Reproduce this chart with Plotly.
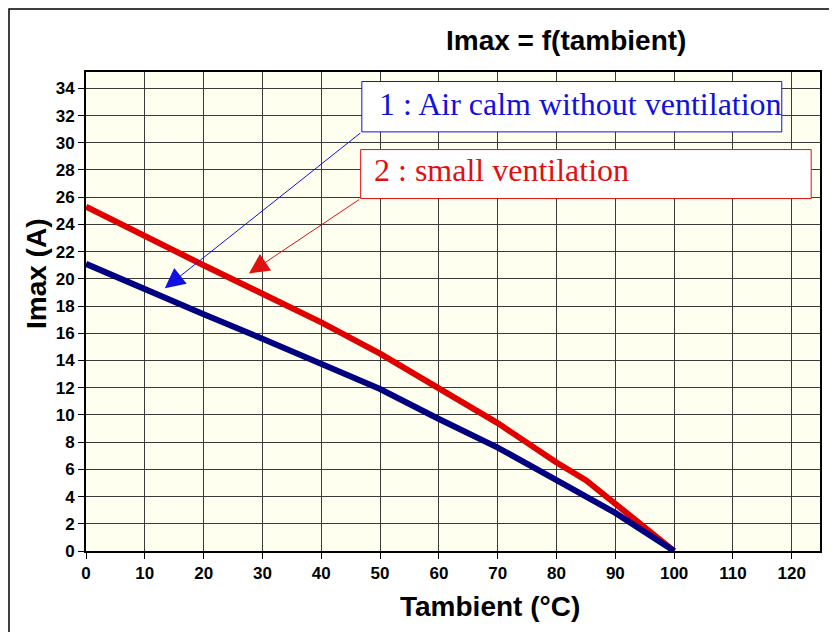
import plotly.graph_objects as go

# Data
temp_calm = [0, 10, 20, 30, 40, 50, 60, 70, 80, 90, 100]
imax_calm = [21.1, 19.2, 17.4, 15.6, 13.8, 11.9, 9.7, 7.6, 5.2, 2.8, 0.0]

temp_vent = [0, 10, 20, 30, 40, 50, 60, 70, 80, 85, 92.5, 100]
imax_vent = [25.3, 23.1, 21.0, 18.9, 16.8, 14.5, 12.0, 9.4, 6.5, 5.2, 2.6, 0.0]

x_ticks = list(range(0, 121, 10))
y_ticks = list(range(0, 35, 2))

label_calm = "1 : Air calm without ventilation"
label_vent = "2 : small ventilation"
title_text = "Imax = f(tambient)"
x_title = "Tambient (°C)"
y_title = "Imax (A)"

SANS = "Liberation Sans, Arial, sans-serif"
SERIF = "Liberation Serif, Times New Roman, serif"

fig = go.Figure()
fig.add_trace(go.Scatter(x=temp_vent, y=imax_vent, mode="lines",
                         line=dict(color="#E00000", width=6), showlegend=False))
fig.add_trace(go.Scatter(x=temp_calm, y=imax_calm, mode="lines",
                         line=dict(color="#000080", width=6), showlegend=False))

# the page adds an 8px body margin; work in screen pixels and convert
OFF = 8
W, H = 837 - OFF, 632 - OFF
PL, PR, PT, PB = 86, 820, 72, 551  # plot area in screen pixels
L = PL - OFF
T = PT - OFF
R = W - (PR - OFF)
B = H - (PB - OFF)
pw = W - L - R
ph = H - T - B


def px2paper(px, py):
    return (px - PL) / pw, (PB - py) / ph


shapes = []
annotations = []

# outer frame (left and top edges visible)
x0, y0 = px2paper(OFF + 1, OFF + 1)
x1, y1 = px2paper(860, 660)
shapes.append(dict(type="rect", xref="paper", yref="paper", x0=x0, y0=y1, x1=x1, y1=y0,
                   line=dict(color="black", width=1.5), fillcolor="rgba(0,0,0,0)", layer="below"))

# label boxes (data coordinates)
shapes.append(dict(type="rect", xref="x", yref="y", x0=46.9, x1=118.3, y0=30.8, y1=34.5,
                   line=dict(color="#1010E0", width=1), fillcolor="white", layer="above"))
shapes.append(dict(type="rect", xref="x", yref="y", x0=46.7, x1=123.3, y0=25.9, y1=29.5,
                   line=dict(color="#E01010", width=1), fillcolor="white", layer="above"))

annotations.append(dict(x=49.4, y=32.85, xref="x", yref="y", text=label_calm, showarrow=False,
                        xanchor="left", yanchor="middle",
                        font=dict(family=SERIF, size=32, color="#1010E0")))
annotations.append(dict(x=48.7, y=28.0, xref="x", yref="y", text=label_vent, showarrow=False,
                        xanchor="left", yanchor="middle",
                        font=dict(family=SERIF, size=32, color="#E01010")))

# arrows
annotations.append(dict(x=13.4, y=19.3, xref="x", yref="y", ax=46.9, ay=30.8, axref="x", ayref="y",
                        text="", showarrow=True, arrowhead=2, arrowsize=4, arrowwidth=1,
                        arrowcolor="#1010E0", standoff=0))
annotations.append(dict(x=27.7, y=20.4, xref="x", yref="y", ax=46.7, ay=25.9, axref="x", ayref="y",
                        text="", showarrow=True, arrowhead=2, arrowsize=4, arrowwidth=1,
                        arrowcolor="#E01010", standoff=0))

# titles
tx, ty = px2paper(566, 40)
annotations.append(dict(x=tx, y=ty, xref="paper", yref="paper", text="<b>%s</b>" % title_text,
                        showarrow=False, xanchor="center", yanchor="middle",
                        font=dict(family=SANS, size=28, color="black")))
tx, ty = px2paper(490, 606)
annotations.append(dict(x=tx, y=ty, xref="paper", yref="paper", text="<b>%s</b>" % x_title,
                        showarrow=False, xanchor="center", yanchor="middle",
                        font=dict(family=SANS, size=28, color="black")))
tx, ty = px2paper(36, 274)
annotations.append(dict(x=tx, y=ty, xref="paper", yref="paper", text="<b>%s</b>" % y_title,
                        showarrow=False, xanchor="center", yanchor="middle", textangle=-90,
                        font=dict(family=SANS, size=28, color="black")))

fig.update_layout(
    width=W, height=H,
    margin=dict(l=L, r=R, t=T, b=B, pad=0),
    paper_bgcolor="white",
    plot_bgcolor="#FFFFF0",
    shapes=shapes,
    annotations=annotations,
    showlegend=False,
)

fig.update_xaxes(range=[0, 124.8], tickmode="array", tickvals=x_ticks,
                 ticktext=["<b>%d</b>" % v for v in x_ticks],
                 tickfont=dict(family=SANS, size=17, color="black"),
                 showgrid=True, gridcolor="#3a3a3a", gridwidth=1,
                 showline=True, linecolor="black", linewidth=2, mirror=True,
                 ticks="outside", ticklen=6, tickcolor="black", zeroline=False)
fig.update_yaxes(range=[0, 35.2], tickmode="array", tickvals=y_ticks,
                 ticktext=["<b>%d</b>" % v for v in y_ticks],
                 tickfont=dict(family=SANS, size=17, color="black"),
                 showgrid=True, gridcolor="#3a3a3a", gridwidth=1,
                 showline=True, linecolor="black", linewidth=2, mirror=True,
                 ticks="outside", ticklen=6, tickcolor="black", zeroline=False)

fig.write_html("out.html")
